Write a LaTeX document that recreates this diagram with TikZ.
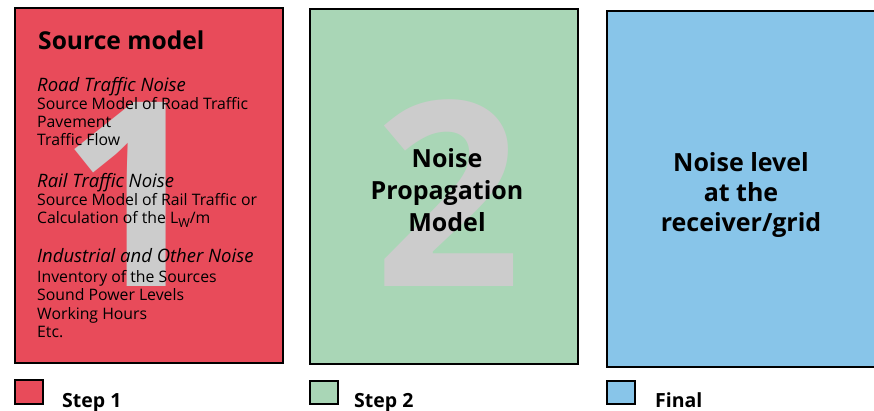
\documentclass[tikz,border=0pt]{standalone}
\usepackage{fontspec}
\setmainfont{Open Sans}
\definecolor{redbox}{HTML}{E84B5A}
\definecolor{greenbox}{HTML}{A9D6B6}
\definecolor{bluebox}{HTML}{88C5E9}
\definecolor{digitgray}{HTML}{CCCCCC}
\tikzset{
  box/.style={draw=black,line width=2.5pt},
  legbox/.style={draw=black,line width=2pt},
  bigdigit/.style={text=digitgray,font=\bfseries\fontsize{258}{258}\selectfont,anchor=base,inner sep=0pt},
  titletext/.style={font=\bfseries\fontsize{24.6}{28}\selectfont,anchor=base west,inner sep=0pt},
  headtext/.style={font=\itshape\fontsize{18.5}{18}\selectfont,anchor=base west,inner sep=0pt},
  bodytext/.style={font=\fontsize{15.8}{18}\selectfont,anchor=base west,inner sep=0pt},
  centertext/.style={font=\bfseries\fontsize{25}{31}\selectfont,anchor=base,inner sep=0pt},
  legtext/.style={font=\bfseries\fontsize{19.5}{20}\selectfont,anchor=base west,inner sep=0pt}
}
\begin{document}
\begin{tikzpicture}[x=1pt,y=-1pt]
\useasboundingbox (0,0) rectangle (874,411);
% boxes
\fill[white] (0,0) rectangle (874,411);
\draw[box,fill=redbox] (15,8) rectangle (283,363);
\draw[box,fill=greenbox] (310,9) rectangle (578,364);
\draw[box,fill=bluebox] (607,11) rectangle (885,367);
% big digits
\node[bigdigit] (d1) at (133,286) {1};
\node[bigdigit] (d2) at (448,287) {2};
% box 1 text
\node[titletext] (t1) at (38,50) {Source model};
\node[headtext] (h1) at (37,92) {Road Traffic Noise};
\node[bodytext] (l1) at (37,110) {Source Model of Road Traffic};
\node[bodytext] (l2) at (37,128) {Pavement};
\node[bodytext] (l3) at (37,146) {Traffic Flow};
\node[headtext] (h2) at (37,188) {Rail Traffic Noise};
\node[bodytext] (l4) at (37,206) {Source Model of Rail Traffic or};
\node[bodytext] (l5) at (37,224) {Calculation of the L\raisebox{-4pt}{\fontsize{12.5}{12.5}\selectfont W}/m};
\node[headtext] (h3) at (37,263) {Industrial and Other Noise};
\node[bodytext] (l6) at (37,282) {Inventory of the Sources};
\node[bodytext] (l7) at (37,300) {Sound Power Levels};
\node[bodytext] (l8) at (37,319) {Working Hours};
\node[bodytext] (l9) at (37,337) {Etc.};
% box 2 text
\node[centertext] (c2a) at (447,168) {Noise};
\node[centertext] (c2b) at (447,200) {Propagation};
\node[centertext] (c2c) at (447,232) {Model};
% box 3 text
\node[centertext] (c3a) at (741,172) {Noise level};
\node[centertext] (c3b) at (741,202) {at the};
\node[centertext] (c3c) at (741,232) {receiver/grid};
% legend
\draw[legbox,fill=redbox] (15,380) rectangle (43,404);
\node[legtext] (s1) at (62,407) {Step 1};
\draw[legbox,fill=greenbox] (310,381) rectangle (338,404);
\node[legtext] (s2) at (354,407) {Step 2};
\draw[legbox,fill=bluebox] (607,381) rectangle (635,404);
\node[legtext] (s3) at (655,407) {Final};
\end{tikzpicture}
\end{document}
